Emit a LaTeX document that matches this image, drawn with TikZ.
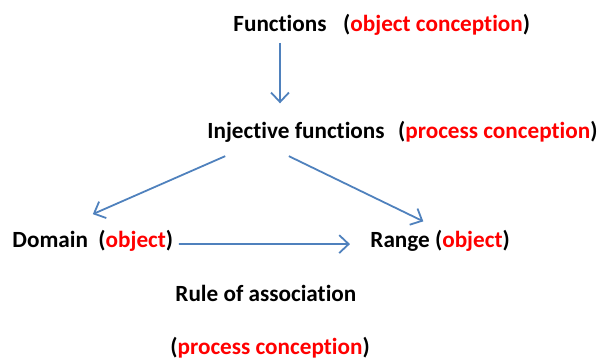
\documentclass[tikz,border=0pt]{standalone}
\usepackage{fontspec}
\setmainfont[Ligatures=NoCommon]{Carlito}
\usetikzlibrary{arrows.meta, positioning}
\definecolor{arrowblue}{RGB}{79,129,189}
\newcommand{\obj}[1]{\textcolor{red}{#1}}

\begin{document}
\begin{tikzpicture}[lbl/.style={inner sep=0pt, font=\fontsize{11}{13}\selectfont\bfseries},
    arr/.style={draw=arrowblue, line width=0.85pt, -{Straight Barb[length=4.5pt,width=8.5pt]}}]
  \useasboundingbox (0,0) rectangle (10,5.983);
  % labels
  \node[lbl, anchor=base west] (func) at (3.883,5.45) {Functions};
  \node[lbl, base right=7.5pt of func] (funcnote) {(\obj{object conception})};
  \node[lbl, anchor=base west] (inj) at (3.45,3.683) {Injective functions};
  \node[lbl, base right=6pt of inj] (injnote) {(\obj{process conception})};
  \node[lbl, anchor=base west] (dom) at (0.2,1.85) {Domain~~(\obj{object})};
  \node[lbl, anchor=base west] (rng) at (6.167,1.85) {Range (\obj{object})};
  \node[lbl, anchor=base west] (rule) at (2.917,0.95) {Rule of association};
  \node[lbl, anchor=base west] (proc) at (2.833,0.067) {(\obj{process conception})};
  % arrows
  \draw[arr, shorten <=0.17cm, shorten >=0.3cm] (func.south) -- (func.south |- inj.north);
  \draw[arr] ([xshift=-1.18cm,yshift=-0.23cm]inj.south) -- ([yshift=0.27cm]dom.north);
  \draw[arr] ([xshift=-0.12cm,yshift=-0.23cm]inj.south) -- ([xshift=-0.28cm,yshift=0.15cm]rng.north);
  \draw[arr, shorten <=2.5pt, shorten >=9.5pt] ([yshift=-1.3pt]dom.east) -- ([yshift=-1.3pt]rng.west);
\end{tikzpicture}
\end{document}
